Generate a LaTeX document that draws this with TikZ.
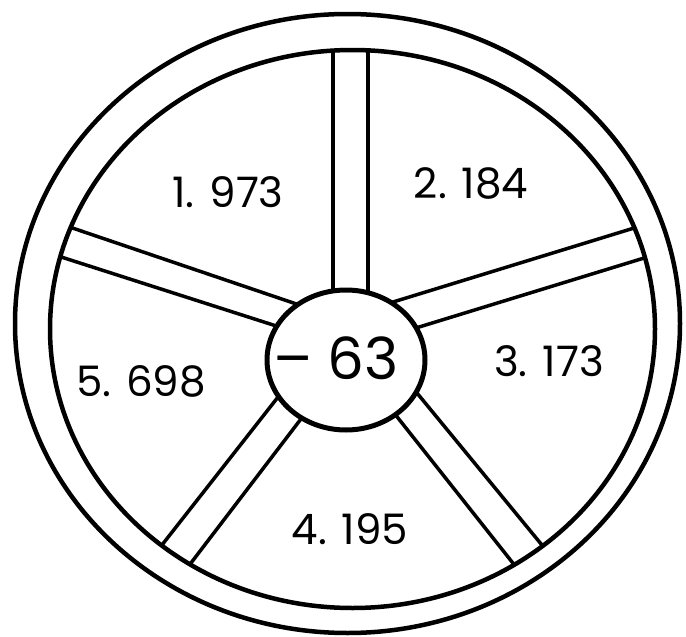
\documentclass[tikz,border=0pt]{standalone}
\usepackage{fontspec}
\setmainfont{Poppins}
\usetikzlibrary{shapes.geometric}

\begin{document}
\begin{tikzpicture}[
    x=1pt, y=-1pt,
    rim/.style={draw, line width=4.5pt},
    spoke/.style={draw, line width=3.5pt},
    hub/.style={draw, ellipse, line width=5pt, fill=white, minimum width=158pt, minimum height=140pt, inner sep=0pt},
    num/.style={inner sep=0pt, font=\fontsize{42}{50}\selectfont},
    val/.style={inner sep=0pt, font=\fontsize{58}{68}\selectfont}
]
\useasboundingbox (0,0) rectangle (686,637);

\begin{scope}
\clip (352.5,329) ellipse [x radius=302.5pt, y radius=279pt];
\draw[spoke] (333,40) -- (333,320);
\draw[spoke] (368,40) -- (368,320);
\draw[spoke] (40,217) -- (320,312);
\draw[spoke] (30,247) -- (320,340);
\draw[spoke] (670,217) -- (380,306);
\draw[spoke] (680,247) -- (380,339);
\draw[spoke] (380,348) -- (560,567);
\draw[spoke] (360,370) -- (535,591);
\draw[spoke] (300,369) -- (140,573);
\draw[spoke] (320,394) -- (165,597);
\end{scope}

\draw[rim] (347.5,323.5) ellipse [x radius=332.5pt, y radius=309.5pt];
\draw[rim] (352.5,329) ellipse [x radius=302.5pt, y radius=279pt];

\node[hub] (hub) at (346,360) {};
\node[val] (total) at (336,358) {– 63};

\node[num] (n1) at (228,192) {1. 973};
\node[num] (n2) at (471,183) {2. 184};
\node[num] (n3) at (549,361) {3. 173};
\node[num] (n4) at (350,529) {4. 195};
\node[num] (n5) at (141,381) {5. 698};
\end{tikzpicture}
\end{document}
